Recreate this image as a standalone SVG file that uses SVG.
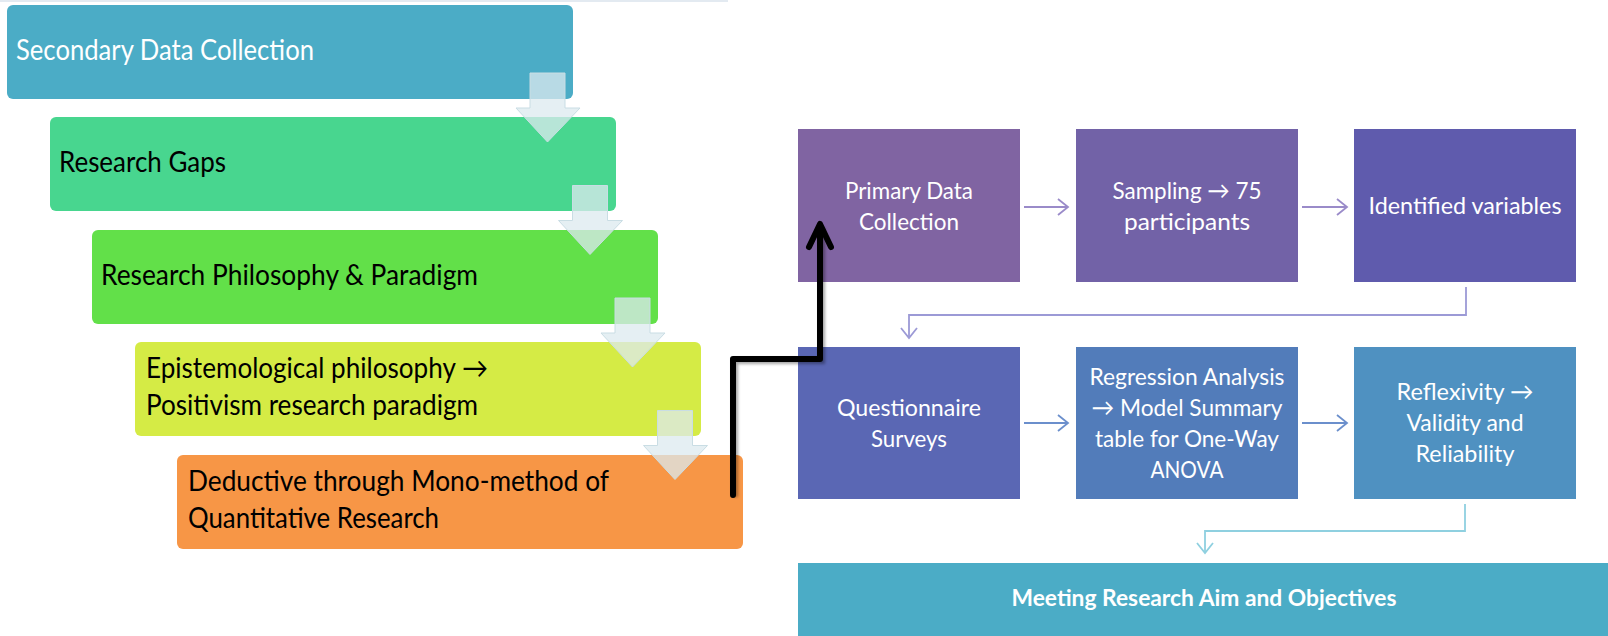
<svg xmlns="http://www.w3.org/2000/svg" width="1608" height="636" viewBox="0 0 1608 636">
<style>
.lt{font-family:Lato,"Open Sans","Liberation Sans",sans-serif;font-size:28.5px;}
.rt{font-family:Lato,"Open Sans","Liberation Sans",sans-serif;font-size:23.5px;fill:#fff;text-anchor:middle;}
.dark{fill:#000;}
.white{fill:#fff;}
.blk{fill:#DCEAEF;fill-opacity:0.75;stroke:#C9DDE4;stroke-width:1;}
.con{fill:none;stroke-width:1.8;}
</style>
<defs>
<marker id="mP" markerUnits="userSpaceOnUse" markerWidth="14" markerHeight="18" refX="11" refY="9" orient="auto"><path d="M1,1 L11,9 L1,17" fill="none" stroke="#9A8BC9" stroke-width="1.8"/></marker>
<marker id="mB" markerUnits="userSpaceOnUse" markerWidth="14" markerHeight="18" refX="11" refY="9" orient="auto"><path d="M1,1 L11,9 L1,17" fill="none" stroke="#6B8FCC" stroke-width="1.8"/></marker>
<marker id="mL" markerUnits="userSpaceOnUse" markerWidth="14" markerHeight="18" refX="11" refY="9" orient="auto"><path d="M1,1 L11,9 L1,17" fill="none" stroke="#9C9AD6" stroke-width="1.8"/></marker>
<marker id="mC" markerUnits="userSpaceOnUse" markerWidth="14" markerHeight="18" refX="11" refY="9" orient="auto"><path d="M1,1 L11,9 L1,17" fill="none" stroke="#8FD0E0" stroke-width="1.8"/></marker>
<filter id="sh" x="-20%" y="-20%" width="140%" height="140%"><feGaussianBlur stdDeviation="1.5"/></filter>
</defs>
<rect x="0" y="0" width="728" height="2" fill="#E3EAF1"/>

<g id="secondary"><rect x="7" y="5" width="566" height="94" rx="6" fill="#4BACC6"/><text class="lt white" x="16" y="60" textLength="298" lengthAdjust="spacingAndGlyphs">Secondary Data Collection</text></g>
<g id="gaps"><rect x="50" y="117" width="566" height="94" rx="6" fill="#48D68F"/><text class="lt dark" x="59" y="172" textLength="167" lengthAdjust="spacingAndGlyphs">Research Gaps</text></g>
<g id="philosophy"><rect x="92" y="230" width="566" height="94" rx="6" fill="#62E049"/><text class="lt dark" x="101" y="285" textLength="377" lengthAdjust="spacingAndGlyphs">Research Philosophy &amp; Paradigm</text></g>
<g id="epistemology"><rect x="135" y="342" width="566" height="94" rx="6" fill="#D5EB45"/><text class="lt dark" x="146" y="378" textLength="342" lengthAdjust="spacingAndGlyphs">Epistemological philosophy →</text><text class="lt dark" x="146" y="415" textLength="332" lengthAdjust="spacingAndGlyphs">Positivism research paradigm</text></g>
<g id="deductive"><rect x="177" y="455" width="566" height="94" rx="6" fill="#F79646"/><text class="lt dark" x="188" y="491" textLength="421" lengthAdjust="spacingAndGlyphs">Deductive through Mono-method of</text><text class="lt dark" x="188" y="528" textLength="251" lengthAdjust="spacingAndGlyphs">Quantitative Research</text></g>

<g id="flow-arrows">
<path class="blk" d="M530,73 H565 V108 H580 L547.5,142 L516,108 H530 Z"/>
<path class="blk" transform="translate(42.5,112.5)" d="M530,73 H565 V108 H580 L547.5,142 L516,108 H530 Z"/>
<path class="blk" transform="translate(85,225)" d="M530,73 H565 V108 H580 L547.5,142 L516,108 H530 Z"/>
<path class="blk" transform="translate(127.5,337.5)" d="M530,73 H565 V108 H580 L547.5,142 L516,108 H530 Z"/>
</g>

<g id="primary"><rect x="798" y="129" width="222" height="153" fill="#8064A2"/><text class="rt" x="909" y="199" textLength="128" lengthAdjust="spacingAndGlyphs">Primary Data</text><text class="rt" x="909" y="230" textLength="100" lengthAdjust="spacingAndGlyphs">Collection</text></g>
<g id="sampling"><rect x="1076" y="129" width="222" height="153" fill="#7262A7"/><text class="rt" x="1187" y="199" textLength="149" lengthAdjust="spacingAndGlyphs">Sampling → 75</text><text class="rt" x="1187" y="230" textLength="126" lengthAdjust="spacingAndGlyphs">participants</text></g>
<g id="variables"><rect x="1354" y="129" width="222" height="153" fill="#5F5BAD"/><text class="rt" x="1465" y="214" textLength="193" lengthAdjust="spacingAndGlyphs">Identified variables</text></g>
<g id="questionnaire"><rect x="798" y="347" width="222" height="152" fill="#5A67B4"/><text class="rt" x="909" y="416" textLength="144" lengthAdjust="spacingAndGlyphs">Questionnaire</text><text class="rt" x="909" y="447" textLength="76" lengthAdjust="spacingAndGlyphs">Surveys</text></g>
<g id="regression"><rect x="1076" y="347" width="222" height="152" fill="#527CBA"/><text class="rt" x="1187" y="385" textLength="195" lengthAdjust="spacingAndGlyphs">Regression Analysis</text><text class="rt" x="1187" y="416" textLength="191" lengthAdjust="spacingAndGlyphs">→ Model Summary</text><text class="rt" x="1187" y="447" textLength="184" lengthAdjust="spacingAndGlyphs">table for One-Way</text><text class="rt" x="1187" y="478" textLength="73" lengthAdjust="spacingAndGlyphs">ANOVA</text></g>
<g id="reflexivity"><rect x="1354" y="347" width="222" height="152" fill="#4F91C1"/><text class="rt" x="1465" y="400" textLength="137" lengthAdjust="spacingAndGlyphs">Reflexivity →</text><text class="rt" x="1465" y="431" textLength="117" lengthAdjust="spacingAndGlyphs">Validity and</text><text class="rt" x="1465" y="462" textLength="99" lengthAdjust="spacingAndGlyphs">Reliability</text></g>
<g id="meeting"><rect x="798" y="563" width="810" height="73" fill="#4BACC6"/><text class="rt" x="1204" y="606" font-weight="bold" textLength="385" lengthAdjust="spacingAndGlyphs">Meeting Research Aim and Objectives</text></g>

<g id="connectors">
<line class="con" x1="1024" y1="207" x2="1068" y2="207" stroke="#9A8BC9" marker-end="url(#mP)"/>
<line class="con" x1="1302" y1="207" x2="1347" y2="207" stroke="#9A8BC9" marker-end="url(#mP)"/>
<line class="con" x1="1024" y1="423" x2="1068" y2="423" stroke="#6B8FCC" marker-end="url(#mB)"/>
<line class="con" x1="1302" y1="423" x2="1347" y2="423" stroke="#6B8FCC" marker-end="url(#mB)"/>
<path class="con" d="M1466,287 V315 H909 V338" stroke="#9C9AD6" marker-end="url(#mL)"/>
<path class="con" d="M1465,504 V531 H1205 V553" stroke="#8FD0E0" marker-end="url(#mC)"/>
<g transform="translate(2,2)" opacity="0.35" filter="url(#sh)"><path d="M733,495 V359 H820 V226" fill="none" stroke="#000" stroke-width="6"/></g>
<path d="M733,495 V359 H820 V226" fill="none" stroke="#000" stroke-width="6" stroke-linejoin="round" stroke-linecap="round"/>
<path d="M809,247 L820,224 L831,247" fill="none" stroke="#000" stroke-width="6" stroke-linejoin="round" stroke-linecap="round"/>
</g>
</svg>
